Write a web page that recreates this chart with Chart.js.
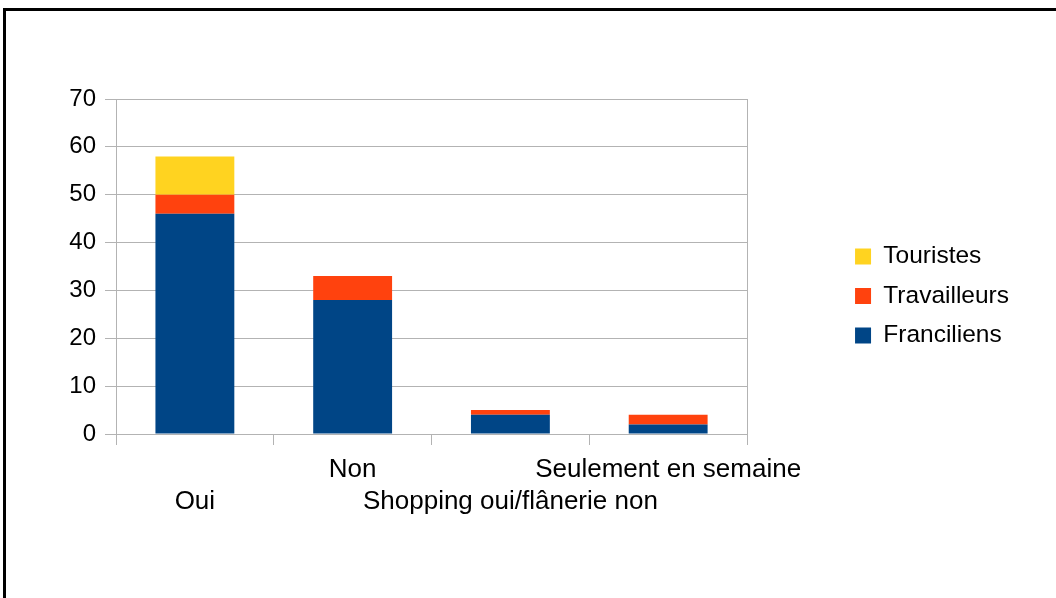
<!DOCTYPE html>
<html>
<head>
<meta charset="utf-8">
<script src="https://cdn.jsdelivr.net/npm/chart.js@4/dist/chart.umd.min.js"></script>
<style>
  html, body { margin: 0; padding: 0; background: #fff; overflow: hidden; }
  #frame { position: absolute; left: 3px; top: 8px; width: 2000px; height: 2000px;
           border-left: 3px solid #000; border-top: 3px solid #000; }
  #wrap { position: absolute; left: 0; top: 0; width: 1056px; height: 598px; }
</style>
</head>
<body>
<div id="frame"></div>
<div id="wrap"><canvas id="graphe"></canvas></div>
<script>
// categories (two-line labels so they stagger like the original)
const categories = [
  ["", "Oui"],
  ["Non"],
  ["", "Shopping oui/flânerie non"],
  ["Seulement en semaine"],
];
const franciliens = [46, 28, 4, 2];
const travailleurs = [4, 5, 1, 2];
const touristes = [8, 0, 0, 0];
const yTicks = [0, 10, 20, 30, 40, 50, 60, 70];

const gris = "#b3b3b3";
const police = "'Liberation Sans', Arial, sans-serif";

const graphe = document.getElementById("graphe");

new Chart(graphe, {
  type: "bar",
  data: {
    labels: categories,
    datasets: [
      { label: "Franciliens", data: franciliens, backgroundColor: "#004586", yAxisID: "y" },
      { label: "Travailleurs", data: travailleurs, backgroundColor: "#ff420e", yAxisID: "y" },
      { label: "Touristes", data: touristes, backgroundColor: "#ffd320", yAxisID: "y" },
    ],
  },
  options: {
    responsive: true,
    maintainAspectRatio: false,
    animation: false,
    datasets: { bar: { categoryPercentage: 1, barPercentage: 0.5 } },
    layout: { padding: { left: 69, top: 99, right: 37, bottom: 71 } },
    scales: {
      x: {
        stacked: true,
        grid: { offset: true, drawOnChartArea: false, color: gris, tickLength: 11 },
        border: { color: gris },
        ticks: {
          autoSkip: false, maxRotation: 0, minRotation: 0, padding: 9,
          color: "#000", font: { family: police, size: 26, lineHeight: "32px" },
        },
      },
      y: {
        stacked: true,
        min: 0,
        max: yTicks[yTicks.length - 1],
        afterBuildTicks: (s) => { s.ticks = yTicks.map((v) => ({ value: v })); },
        afterFit: (s) => { s.width = 47; },
        grid: { color: gris, tickLength: 11 },
        border: { color: gris },
        ticks: { padding: 9, color: "#000", font: { family: police, size: 24 } },
      },
      // empty axis: right edge of the plot + gap before the legend
      yR: {
        type: "linear",
        position: "right",
        grid: { display: false },
        ticks: { display: false },
        border: { display: true, color: gris },
        afterFit: (s) => { s.width = 93; },
      },
    },
    plugins: {
      tooltip: { enabled: false },
      legend: {
        position: "right",
        align: "center",
        fullSize: false,
        maxWidth: 300,
        reverse: true,
        title: { display: true, text: "", padding: { top: 49, bottom: 0 }, font: { size: 10, lineHeight: 1 } },
        labels: {
          boxWidth: 16, boxHeight: 16, padding: 15,
          color: "#000", font: { family: police, size: 24.5 },
        },
      },
    },
  },
});
</script>
</body>
</html>
